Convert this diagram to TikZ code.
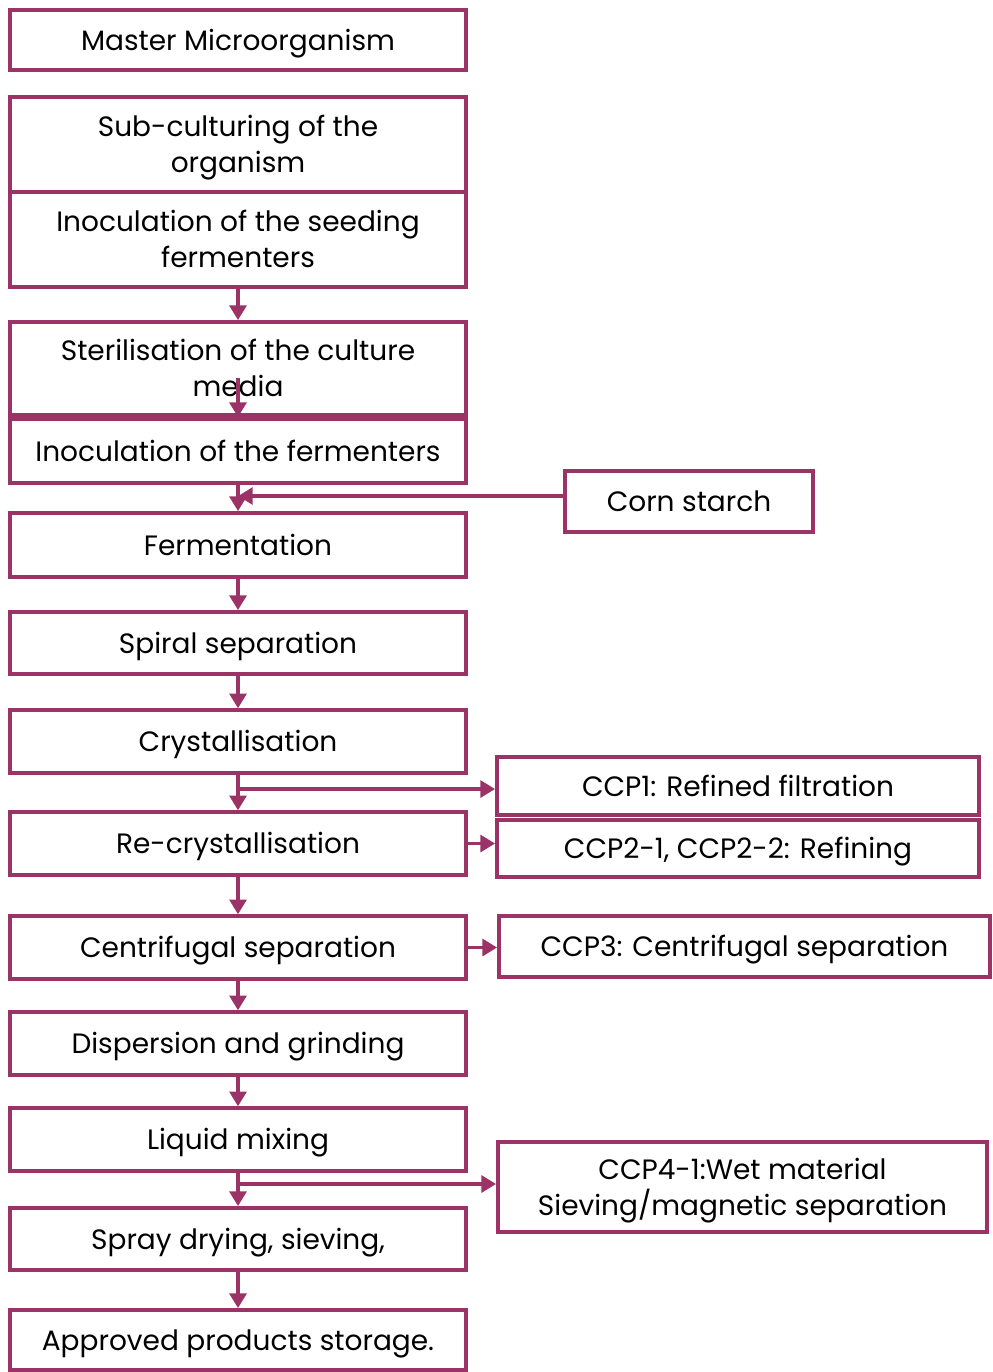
\documentclass[tikz,border=0pt]{standalone}
\usepackage{fontspec}
\setmainfont{Poppins}
\usetikzlibrary{arrows.meta}

\definecolor{flowmagenta}{RGB}{155,51,102}

\begin{document}
\begin{tikzpicture}[x = 0.75pt, y = -0.75pt]
\tikzstyle{stepStyle} = [draw = flowmagenta, line width = 2.8pt, minimum width = 342pt, minimum height = 47pt, inner sep = 0pt, align = center, text height = 15pt, text depth = 0pt, font = \fontsize{21}{27}\selectfont]
\tikzstyle{twoLineStyle} = [stepStyle, text height = 42pt]
\tikzstyle{flowStyle} = [draw = flowmagenta, line width = 2.8pt, -{Triangle[length = 11pt, width = 12.5pt]}]
\useasboundingbox (0, 0) rectangle (993, 1372);
\node[stepStyle, minimum height = 45pt] (master) at (238, 40) {Master Microorganism};
\node[twoLineStyle, minimum height = 71.25pt] (subculture) at (238, 144.5) {Sub-culturing of the\\organism};
\node[twoLineStyle, minimum height = 71.25pt] (seeding) at (238, 239.5) {Inoculation of the seeding\\fermenters};
\node[twoLineStyle, minimum height = 69.75pt] (sterilise) at (238, 368.5) {Sterilisation of the culture\\media};
\node[stepStyle, minimum height = 48pt] (inoculate) at (238, 451) {Inoculation of the fermenters};
\node[stepStyle, minimum height = 48pt] (ferment) at (238, 545) {Fermentation};
\node[stepStyle, minimum height = 46.5pt] (spiral) at (238, 643) {Spiral separation};
\node[stepStyle] (crystal) at (238, 741.5) {Crystallisation};
\node[stepStyle] (recrystal) at (238, 843.5) {Re-crystallisation};
\node[stepStyle] (centrifuge) at (238, 947.5) {Centrifugal separation};
\node[stepStyle] (disperse) at (238, 1043.5) {Dispersion and grinding};
\node[stepStyle] (mixing) at (238, 1139.5) {Liquid mixing};
\node[stepStyle, minimum height = 46.5pt] (spray) at (238, 1239) {Spray drying, sieving,};
\node[stepStyle, minimum height = 45pt] (storage) at (238, 1340) {Approved products storage.};
\node[stepStyle, minimum width = 186pt, minimum height = 45.75pt] (corn) at (689, 501.5) {Corn starch};
\node[stepStyle, minimum width = 361.5pt, minimum height = 43.5pt] (ccpA) at (738, 786) {CCP1: Refined filtration};
\node[stepStyle, minimum width = 361.5pt, minimum height = 42.75pt] (ccpB) at (738, 848.5) {CCP2-1, CCP2-2: Refining};
\node[stepStyle, minimum width = 368.25pt, minimum height = 45.75pt] (ccpC) at (744.5, 946.5) {CCP3: Centrifugal separation};
\node[twoLineStyle, minimum width = 366.75pt, minimum height = 67.5pt] (ccpD) at (742.5, 1187) {CCP4-1:Wet material\\Sieving/magnetic separation};
\coordinate (mediajoin) at (238, 378);
\coordinate (cornjoin) at (238, 496);
\coordinate (ccpAjoin) at (238, 789);
\coordinate (ccpDjoin) at (238, 1184);
\draw[flowStyle] (seeding.south) -- (sterilise.north);
\draw[flowStyle] (mediajoin) -- (inoculate.north);
\draw[flowStyle] (inoculate.south) -- (ferment.north);
\draw[flowStyle] (corn.west |- cornjoin) -- (cornjoin);
\draw[flowStyle] (ferment.south) -- (spiral.north);
\draw[flowStyle] (spiral.south) -- (crystal.north);
\draw[flowStyle] (crystal.south) -- (recrystal.north);
\draw[flowStyle] (ccpAjoin) -- (ccpA.west |- ccpAjoin);
\draw[flowStyle] (recrystal.east) -- (recrystal.east -| ccpB.west);
\draw[flowStyle] (recrystal.south) -- (centrifuge.north);
\draw[flowStyle] (centrifuge.east) -- (centrifuge.east -| ccpC.west);
\draw[flowStyle] (centrifuge.south) -- (disperse.north);
\draw[flowStyle] (disperse.south) -- (mixing.north);
\draw[flowStyle] (mixing.south) -- (spray.north);
\draw[flowStyle] (ccpDjoin) -- (ccpD.west |- ccpDjoin);
\draw[flowStyle] (spray.south) -- (storage.north);
\end{tikzpicture}
\end{document}
